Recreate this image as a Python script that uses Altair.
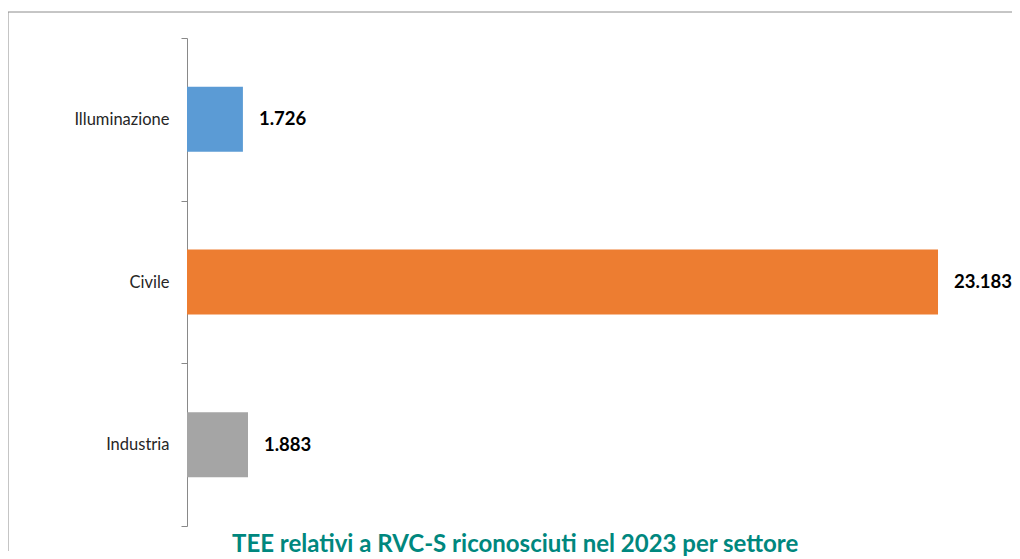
import altair as alt
import pandas as pd

categories = ["Illuminazione", "Civile", "Industria"]
values = [1726, 23183, 1883]
colors = ["#5B9BD5", "#ED7D31", "#A5A5A5"]
title_text = "TEE relativi a RVC-S riconosciuti nel 2023 per settore"

df = pd.DataFrame({"settore": categories, "valore": values, "colore": colors})

FONT = "Lato"
W, H = 817, 488

base = alt.Chart(df).transform_calculate(
    label="replace(format(datum.valore, ','), ',', '.')"
).encode(
    y=alt.Y(
        "settore:N",
        sort=categories,
        scale=alt.Scale(paddingInner=0, paddingOuter=0),
        axis=alt.Axis(
            title=None,
            tickBand="extent",
            domainColor="#898989",
            tickColor="#898989",
            tickSize=6,
            labelFont=FONT,
            labelFontSize=16.5,
            labelColor="#262626",
            labelPadding=12,
        ),
    ),
    x=alt.X("valore:Q", scale=alt.Scale(domain=[0, 25220]), axis=None),
)

bars = base.mark_bar(height=alt.RelativeBandSize(band=0.4)).encode(
    color=alt.Color("colore:N", scale=None)
)

labels = base.mark_text(
    align="left", baseline="middle", dx=16, font=FONT, fontSize=18.5,
    fontWeight="bold", color="#000000"
).encode(text="label:N")

one = pd.DataFrame({"k": [0]})
frame_left = alt.Chart(one).mark_rule(color="#8c8c8c", strokeWidth=1).encode(
    x=alt.value(-179), y=alt.value(-26), y2=alt.value(513)
)
frame_top = alt.Chart(one).mark_rule(color="#8c8c8c", strokeWidth=1).encode(
    x=alt.value(-179), x2=alt.value(830), y=alt.value(-26)
)

chart = alt.layer(frame_left, frame_top, bars, labels).properties(
    width=W,
    height=H,
    autosize="none",
    padding={"left": 179, "top": 30, "right": 8, "bottom": 33},
    title=alt.Title(
        title_text, orient="bottom", anchor="start", frame="group", dx=45,
        offset=0, font=FONT, fontSize=24, fontWeight="bold", color="#00877E",
        baseline="alphabetic",
    ),
).configure_view(stroke=None)

chart.save("out.html", embed_options={"renderer": "svg", "actions": False})
